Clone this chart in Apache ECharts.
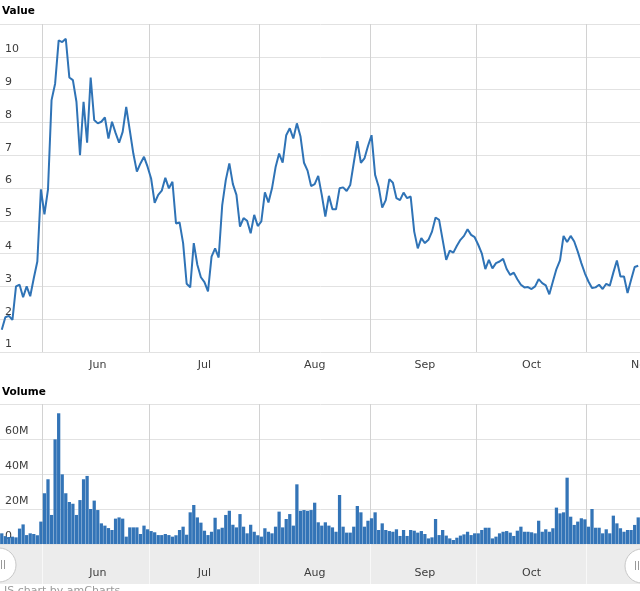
<!DOCTYPE html>
<html><head><meta charset="utf-8">
<script src="https://cdn.jsdelivr.net/npm/echarts@6/dist/echarts.min.js"></script>
<style>html,body{margin:0;padding:0;background:#fff}#c{width:640px;height:591px}</style>
</head><body><div id="c"></div>
<script>
// ---- data ----
const startDate = '2018-05-20';   // first category (daily)
const dayCount = 181;             // May 20 .. Nov 16 (last day has no data)
const monthNames = ['Jan','Feb','Mar','Apr','May','Jun','Jul','Aug','Sep','Oct','Nov','Dec'];

const price = [
  1.68, 2.06, 2.1, 1.98, 3.0, 3.05, 2.67, 3.0, 2.7, 3.25,
  3.76, 5.96, 5.2, 5.96, 8.68, 9.18, 10.5, 10.45, 10.55, 9.37,
  9.29, 8.63, 7.0, 8.63, 7.38, 9.37, 8.07, 7.97, 8.02, 8.15,
  7.51, 8.02, 7.68, 7.38, 7.71, 8.47, 7.76, 7.05, 6.5, 6.75,
  6.95, 6.65, 6.29, 5.55, 5.79, 5.92, 6.31, 5.99, 6.19, 4.92,
  4.95, 4.32, 3.08, 2.97, 4.32, 3.66, 3.28, 3.13, 2.85, 3.91,
  4.16, 3.88, 5.48, 6.24, 6.75, 6.12, 5.79, 4.82, 5.08, 5.0,
  4.62, 5.18, 4.84, 4.98, 5.87, 5.56, 5.99, 6.63, 7.05, 6.77,
  7.61, 7.82, 7.51, 7.97, 7.58, 6.77, 6.53, 6.06, 6.12, 6.37,
  5.79, 5.13, 5.76, 5.35, 5.35, 5.99, 6.02, 5.91, 6.09, 6.77,
  7.43, 6.77, 6.9, 7.28, 7.61, 6.4, 6.04, 5.4, 5.63, 6.27,
  6.16, 5.69, 5.63, 5.86, 5.69, 5.74, 4.67, 4.16, 4.47, 4.32,
  4.42, 4.67, 5.1, 5.03, 4.42, 3.81, 4.09, 4.03, 4.24, 4.42,
  4.54, 4.74, 4.57, 4.5, 4.27, 4.01, 3.53, 3.81, 3.55, 3.71,
  3.76, 3.84, 3.53, 3.35, 3.42, 3.22, 3.05, 2.97, 2.98, 2.92,
  3.0, 3.22, 3.1, 3.03, 2.76, 3.15, 3.53, 3.79, 4.54, 4.35,
  4.54, 4.37, 4.06, 3.71, 3.4, 3.15, 2.95, 2.97, 3.05, 2.92,
  3.08, 3.02, 3.42, 3.79, 3.3, 3.3, 2.8, 3.2, 3.59, 3.63,
  null
];

const volumeM = [
  6.1, 4.5, 4.0, 4.2, 3.8, 8.8, 11.2, 5.1, 6.1, 5.7,
  5.0, 12.8, 29, 37, 16.6, 59.8, 74.7, 39.8, 29, 24,
  23, 16.6, 25.1, 37, 38.9, 20, 24.8, 19.4, 11.8, 10.5,
  9.1, 8, 14.5, 15.2, 14.5, 4.2, 9.5, 9.5, 9.5, 5.7,
  10.5, 8.4, 7.4, 6.7, 5.1, 5.1, 5.7, 5.1, 4.2, 5.0,
  8, 9.9, 5.3, 18.1, 22.3, 15.2, 12.2, 7.6, 5.1, 7,
  15.0, 8.4, 9.3, 16.6, 19, 11, 9.5, 17.1, 9.9, 6.1,
  11, 7, 5, 4.2, 9, 7, 6.1, 9.9, 18.5, 9.5,
  14.3, 17.1, 10.5, 34.1, 19, 19.4, 19, 19.4, 23.6, 12.4,
  10.5, 12.4, 10.5, 9.5, 7, 28, 9.9, 6.5, 6.5, 9.9,
  21.7, 18.1, 9.9, 13.3, 14.7, 18.1, 8, 11.8, 8, 7.4,
  7, 8.4, 4.6, 8, 4.6, 8, 7.6, 6.5, 7.4, 5.7,
  3.2, 3.8, 14.3, 5.1, 8, 4.8, 3.2, 2.3, 3.6, 4.8,
  5.5, 7, 5.1, 6.1, 6.1, 8, 9.3, 9.3, 3.2, 4.2,
  6.1, 7, 7.4, 6.5, 4.6, 7.6, 9.9, 7, 7, 6.7,
  6.1, 13.3, 7, 8.4, 7, 9, 20.8, 17.5, 18.1, 37.9,
  15.6, 10.9, 12.8, 14.7, 14.1, 9.9, 20, 9.3, 9.3, 6.1,
  8.4, 6.1, 16.2, 11.8, 9, 7, 8, 8, 10.9, 15.2,
  null
];

const valueAxisMin = 1, valueAxisMax = 11, valueAxisStep = 1;
const volumeAxisMin = 0, volumeAxisMax = 80, volumeAxisStep = 20;

// ---- categories ----
const categories = [];
(function(){
  const d0 = new Date(startDate + 'T00:00:00Z');
  for (let i = 0; i < dayCount; i++) {
    const d = new Date(d0.getTime() + i * 86400000);
    categories.push(d.toISOString().slice(0, 10));
  }
})();
const dayOf = s => +s.slice(8, 10);
const monthOf = s => monthNames[+s.slice(5, 7) - 1];
const isMonthStart = (i, v) => dayOf(v) === 1;
const isMidMonth = (i, v) => dayOf(v) === 16;

// ---- styles ----
const FONT = 'DejaVu Sans';
const BLUE = '#2f73b6';
const hGrid = '#e2e2e2';
const vGrid = '#d2d2d2';
const labelColor = '#3c3c3c';

const chart = echarts.init(document.getElementById('c'), null, {renderer: 'canvas'});

function xAxisBase(gridIndex) {
  return {
    type: 'category', gridIndex: gridIndex, data: categories, boundaryGap: true,
    axisLine: {show: false}, axisTick: {show: false, interval: isMonthStart},
    splitLine: {show: true, interval: isMonthStart, lineStyle: {color: vGrid, width: 1}},
    axisLabel: {show: false}
  };
}

const gridBase = {left: 0, right: -3.556, containLabel: false, outerBoundsMode: 'none'};

const option = {
  animation: false,
  backgroundColor: '#fff',
  textStyle: {fontFamily: FONT},
  title: [
    {text: 'Value', left: 2, top: 6, padding: 0,
     textStyle: {fontFamily: FONT, fontSize: 10.5, fontWeight: 'bold', color: '#000'}},
    {text: 'Volume', left: 2, top: 387, padding: 0,
     textStyle: {fontFamily: FONT, fontSize: 10.5, fontWeight: 'bold', color: '#000'}}
  ],
  grid: [
    Object.assign({}, gridBase, {top: 24, height: 328}),
    Object.assign({}, gridBase, {top: 404, height: 140}),
    Object.assign({}, gridBase, {top: 544, height: 40, show: true, backgroundColor: '#ececec', borderWidth: 0})
  ],
  xAxis: [
    Object.assign(xAxisBase(0), {
      axisLabel: {show: true, interval: isMidMonth, margin: 8, color: labelColor, fontSize: 11,
                  fontFamily: FONT, formatter: v => monthOf(v)}
    }),
    xAxisBase(1),
    Object.assign(xAxisBase(2), {
      splitLine: {show: true, interval: isMonthStart, lineStyle: {color: '#f8f8f8', width: 1}},
      axisLabel: {show: true, inside: true, interval: isMidMonth, margin: 5, color: labelColor, fontSize: 11,
                  fontFamily: FONT, formatter: v => monthOf(v)}
    })
  ],
  yAxis: [
    {type: 'value', gridIndex: 0, min: valueAxisMin, max: valueAxisMax, interval: valueAxisStep,
     axisLine: {show: false}, axisTick: {show: false},
     splitLine: {lineStyle: {color: hGrid, width: 1}},
     axisLabel: {inside: true, margin: 5, color: labelColor, fontSize: 11, fontFamily: FONT,
                 verticalAlign: 'bottom', padding: [0, 0, 2, 0], showMaxLabel: false}},
    {type: 'value', gridIndex: 1, min: volumeAxisMin, max: volumeAxisMax, interval: volumeAxisStep,
     axisLine: {show: false}, axisTick: {show: false},
     splitLine: {lineStyle: {color: hGrid, width: 1}},
     axisLabel: {inside: true, margin: 5, color: labelColor, fontSize: 11, fontFamily: FONT,
                 verticalAlign: 'bottom', padding: [0, 0, 2, 0], showMaxLabel: false,
                 formatter: v => v === 0 ? '0' : v + 'M'}},
    {type: 'value', gridIndex: 2, min: 0, max: 1, show: false}
  ],
  series: [
    {type: 'line', xAxisIndex: 0, yAxisIndex: 0, data: price, showSymbol: false, symbol: 'none',
     lineStyle: {color: BLUE, width: 2}, z: 5},
    {type: 'bar', xAxisIndex: 1, yAxisIndex: 1, data: volumeM, barCategoryGap: '8%',
     itemStyle: {color: '#3374b7'}, z: 5}
  ],
  graphic: [
    {type: 'circle', shape: {cx: -1, cy: 565, r: 17}, style: {fill: '#fff', stroke: '#c8c8c8', lineWidth: 1}, z: 50},
    {type: 'rect', shape: {x: 1, y: 560, width: 1, height: 9}, style: {fill: '#999'}, z: 51},
    {type: 'rect', shape: {x: 4, y: 560, width: 1, height: 9}, style: {fill: '#999'}, z: 51},
    {type: 'circle', shape: {cx: 642, cy: 566, r: 17}, style: {fill: '#fff', stroke: '#c8c8c8', lineWidth: 1}, z: 50},
    {type: 'rect', shape: {x: 635, y: 561, width: 1, height: 9}, style: {fill: '#999'}, z: 51},
    {type: 'rect', shape: {x: 638, y: 561, width: 1, height: 9}, style: {fill: '#999'}, z: 51},
    {type: 'text', left: 4, top: 586, style: {text: 'JS chart by amCharts', fill: '#9a9a9a', font: '11px "DejaVu Sans"'}, z: 51}
  ]
};
chart.setOption(option);
</script>
</body></html>
